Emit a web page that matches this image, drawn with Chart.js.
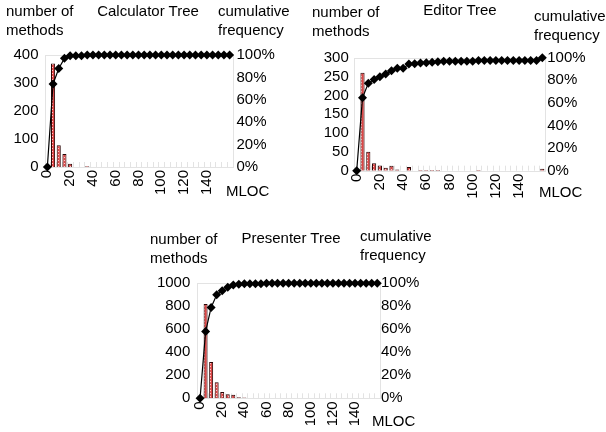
<!DOCTYPE html>
<html>
<head>
<meta charset="utf-8">
<script src="https://cdn.jsdelivr.net/npm/chart.js@4/dist/chart.umd.min.js"></script>
<style>
body { margin: 0; background: #fff; width: 606px; height: 432px; position: relative; overflow: hidden; font-family: 'Liberation Sans', Arial, sans-serif; }
canvas { position: absolute; }
.t { position: absolute; font-size: 15px; line-height: 19px; color: #000; white-space: nowrap; }
.c { text-align: center; width: 200px; }
</style>
</head>
<body>
<canvas id="calcChart" width="300" height="215" style="left:0;top:0"></canvas>
<canvas id="editorChart" width="306" height="215" style="left:300px;top:0"></canvas>
<canvas id="presenterChart" width="300" height="225" style="left:140px;top:215px"></canvas>

<div class="t" style="left:6px;top:1px">number of<br>methods</div>
<div class="t c" style="left:48px;top:1px">Calculator Tree</div>
<div class="t" style="left:218px;top:1px">cumulative<br>frequency</div>
<div class="t" style="left:226px;top:181px">MLOC</div>

<div class="t" style="left:312px;top:2px">number of<br>methods</div>
<div class="t c" style="left:360px;top:0px">Editor Tree</div>
<div class="t" style="left:534px;top:6px">cumulative<br>frequency</div>
<div class="t" style="left:539px;top:182px">MLOC</div>

<div class="t" style="left:150px;top:229px">number of<br>methods</div>
<div class="t c" style="left:191px;top:228px">Presenter Tree</div>
<div class="t" style="left:360px;top:226px">cumulative<br>frequency</div>
<div class="t" style="left:372px;top:411px">MLOC</div>

<script>
// bins of method length (MLOC), step 5
const mloc = [0, 5, 10, 15, 20, 25, 30, 35, 40, 45, 50, 55, 60, 65, 70, 75, 80,
    85, 90, 95, 100, 105, 110, 115, 120, 125, 130, 135, 140, 145, 150, 155, 160];

const calcMethods = [0, 370, 78, 46, 12, 0, 0, 3, 0, 0, 0, 0, 0, 0, 0, 0,
    0, 0, 0, 0, 0, 0, 0, 0, 0, 0, 0, 0, 0, 0, 0, 0, 0];
const calcCumulative = [0, 74, 88, 97, 99.4, 99.4, 99.4, 100, 100, 100, 100, 100, 100, 100, 100, 100,
    100, 100, 100, 100, 100, 100, 100, 100, 100, 100, 100, 100, 100, 100, 100, 100, 100];

const editorMethods = [0, 260, 50, 20, 14, 8, 13, 3, 0, 10, 0, 2, 2, 2, 2, 0,
    0, 0, 0, 0, 0, 2, 0, 0, 0, 0, 0, 0, 0, 0, 0, 0, 5];
const editorCumulative = [0, 64.6, 77.3, 80.8, 83.2, 85.5, 88.5, 90.6, 90.6, 94.4, 94.7, 95.2, 95.6, 96, 96.5, 96.8,
    96.8, 96.8, 96.8, 96.8, 96.8, 97.6, 97.6, 97.6, 97.6, 97.6, 97.6, 97.6, 97.6, 97.6, 97.6, 97.6, 100];

const presenterMethods = [0, 820, 315, 140, 55, 35, 30, 10, 8, 0, 0, 0, 0, 0, 0, 0,
    0, 0, 0, 0, 0, 0, 0, 0, 0, 0, 0, 0, 0, 0, 0, 0, 0];
const presenterCumulative = [0, 58, 79, 90, 93.6, 96.5, 98.5, 99.2, 99.7, 99.7, 99.7, 99.7, 100, 100, 100, 100,
    100, 100, 100, 100, 100, 100, 100, 100, 100, 100, 100, 100, 100, 100, 100, 100, 100];

const font = { family: "'Liberation Sans', Arial, sans-serif", size: 15 };

function dottedFill() {
    const c = document.createElement('canvas');
    c.width = 3;
    c.height = 3;
    const g = c.getContext('2d');
    g.fillStyle = '#dc4646';
    g.fillRect(0, 0, 3, 3);
    g.fillStyle = '#ffc8c8';
    g.fillRect(1, 1, 1, 1);
    return g.createPattern(c, 'repeat');
}

// light plot frame with small category ticks at the bottom
const framePlugin = {
    id: 'frame',
    beforeDatasetsDraw(chart) {
        const a = chart.chartArea;
        const ctx = chart.ctx;
        const n = chart.data.labels.length;
        const step = (a.right - a.left) / n;
        ctx.save();
        ctx.strokeStyle = '#e3e3e3';
        ctx.lineWidth = 1;
        ctx.strokeRect(Math.round(a.left) + 0.5, Math.round(a.top) + 0.5, Math.round(a.right - a.left), Math.round(a.bottom - a.top));
        ctx.beginPath();
        for (let i = 1; i < n; i++) {
            const x = Math.round(a.left + i * step) + 0.5;
            ctx.moveTo(x, a.bottom - 5);
            ctx.lineTo(x, a.bottom);
        }
        ctx.stroke();
        ctx.restore();
    }
};

function drawTree(id, methods, cumulative, yMax, yStep, box) {
    new Chart(document.getElementById(id), {
        type: 'bar',
        data: {
            labels: mloc,
            datasets: [
                {
                    type: 'line',
                    data: cumulative,
                    yAxisID: 'y1',
                    borderColor: '#000',
                    borderWidth: 1.2,
                    pointStyle: 'rectRot',
                    pointRadius: 4.5,
                    pointBackgroundColor: '#000',
                    pointBorderColor: '#000',
                    pointBorderWidth: 0,
                    tension: 0,
                    clip: false,
                    order: 0
                },
                {
                    type: 'bar',
                    data: methods,
                    yAxisID: 'y',
                    backgroundColor: dottedFill(),
                    borderColor: '#2a0505',
                    borderWidth: 1,
                    barPercentage: 0.72,
                    categoryPercentage: 1,
                    order: 1
                }
            ]
        },
        options: {
            responsive: false,
            animation: false,
            devicePixelRatio: 1,
            layout: { padding: box.pad },
            plugins: {
                legend: { display: false },
                tooltip: { enabled: false }
            },
            scales: {
                x: {
                    offset: true,
                    grid: { display: false, drawTicks: false },
                    border: { display: false },
                    ticks: {
                        autoSkip: false,
                        minRotation: 90,
                        maxRotation: 90,
                        padding: 3,
                        color: '#000',
                        font: font,
                        callback: (v, i) => (mloc[i] % 20 === 0 && mloc[i] < 160) ? String(mloc[i]) : ''
                    },
                    afterFit: s => { s.height = 38; }
                },
                y: {
                    position: 'left',
                    min: 0,
                    max: yMax,
                    grid: { display: false, drawTicks: false },
                    border: { display: false },
                    ticks: { autoSkip: false, stepSize: yStep, padding: box.lp, color: '#000', font: font, callback: v => String(v) },
                    afterFit: s => { s.width = box.yw; }
                },
                y1: {
                    position: 'right',
                    min: 0,
                    max: 100,
                    grid: { display: false, drawTicks: false },
                    border: { display: false },
                    ticks: { autoSkip: false, stepSize: 20, padding: box.rp, color: '#000', font: font, callback: v => v + '%' },
                    afterFit: s => { s.width = 45; }
                }
            }
        },
        plugins: [framePlugin]
    });
}

drawTree('calcChart', calcMethods, calcCumulative, 400, 100,
    { pad: { left: 2, right: 22.5, top: 55, bottom: 10 }, yw: 42.5, lp: 6, rp: 4 });
drawTree('editorChart', editorMethods, editorCumulative, 300, 50,
    { pad: { left: 2, right: 15.8, top: 57.7, bottom: 6.3 }, yw: 51.8, lp: 5, rp: 2 });
drawTree('presenterChart', presenterMethods, presenterCumulative, 1000, 200,
    { pad: { left: 2, right: 15, top: 68.3, bottom: 3.7 }, yw: 55.3, lp: 7, rp: 1 });
</script>
</body>
</html>
